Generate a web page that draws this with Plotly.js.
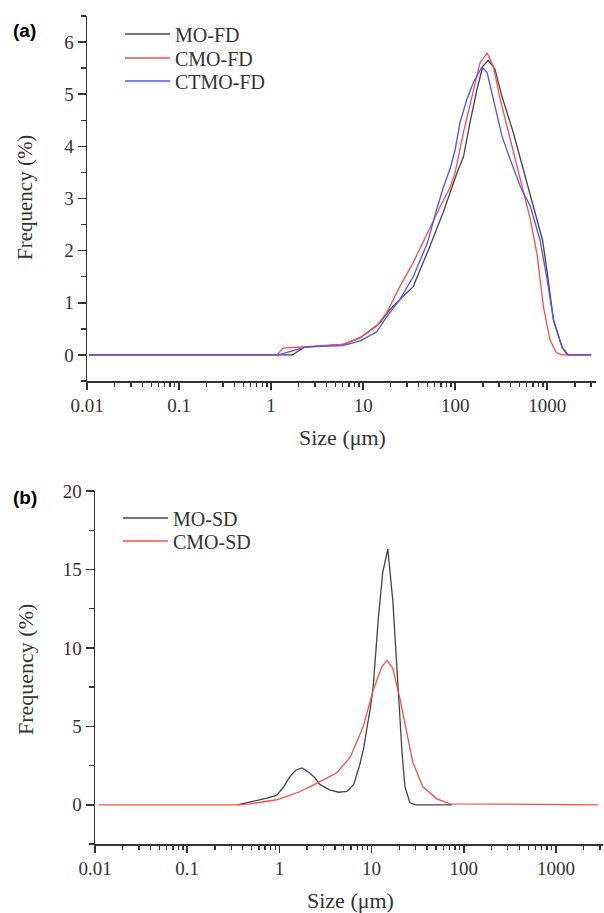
<!DOCTYPE html>
<html>
<head>
<meta charset="utf-8">
<script src="https://cdn.plot.ly/plotly-3.0.1.min.js"></script>
<style>html,body{margin:0;padding:0;background:#fff;}#chart{width:604px;height:913px;}</style>
</head>
<body>
<div id="chart"></div>
<script>
// ---- Panel (a): FD samples ----
const moFdSize = [0.0105, 1.7, 2.3, 3, 4, 6, 9.3, 15, 19.5, 25, 35, 53, 74, 105, 123, 145, 173, 200, 229, 271, 322, 427, 550, 700, 890, 1000, 1170, 1450, 1650, 3000];
const moFdFreq = [0, 0, 0.15, 0.17, 0.18, 0.2, 0.33, 0.6, 0.87, 1.06, 1.31, 2.08, 2.73, 3.5, 3.8, 4.46, 5.1, 5.54, 5.65, 5.48, 4.96, 4.27, 3.56, 2.92, 2.2, 1.58, 0.67, 0.15, 0, 0];

const cmoFdSize = [0.0105, 1.16, 1.35, 2, 3, 4, 6, 9.3, 14, 18, 25, 35, 50, 69, 89, 100, 123, 151, 186, 222, 259, 309, 396, 510, 656, 780, 910, 1070, 1260, 1450, 3000];
const cmoFdFreq = [0, 0, 0.13, 0.15, 0.17, 0.18, 0.2, 0.33, 0.55, 0.81, 1.31, 1.77, 2.35, 2.85, 3.23, 3.5, 4.27, 4.96, 5.6, 5.79, 5.54, 4.9, 4.13, 3.37, 2.6, 1.9, 0.92, 0.29, 0.04, 0, 0];

const ctmoFdSize = [0.0105, 1.2, 1.5, 2.35, 3, 4, 6, 9.3, 14, 18, 25, 35, 50, 63, 74, 89, 100, 113, 134, 158, 195, 222, 259, 322, 396, 510, 656, 836, 1000, 1170, 1450, 1700, 3000];
const ctmoFdFreq = [0, 0, 0.05, 0.15, 0.16, 0.17, 0.18, 0.27, 0.44, 0.73, 1.06, 1.5, 2.15, 2.79, 3.2, 3.6, 3.94, 4.46, 4.9, 5.23, 5.52, 5.42, 4.9, 4.2, 3.75, 3.23, 2.85, 2.2, 1.44, 0.67, 0.15, 0, 0];

// ---- Panel (b): SD samples ----
const moSdSize = [0.35, 0.5, 0.73, 0.93, 1.1, 1.3, 1.5, 1.76, 2.04, 2.4, 2.75, 3.5, 4.4, 5.4, 6.4, 7.4, 8.2, 8.9, 9.6, 10.4, 11.8, 13.2, 15, 17, 18.8, 21.4, 23, 26, 30, 75];
const moSdFreq = [0, 0.2, 0.42, 0.6, 1.1, 1.8, 2.2, 2.35, 2.1, 1.75, 1.3, 0.95, 0.8, 0.85, 1.3, 2.5, 3.6, 4.9, 6.0, 7.5, 11.8, 14.8, 16.3, 13.0, 8.6, 3.3, 1.15, 0.13, 0, 0];

const cmoSdSize = [0.011, 0.35, 0.48, 0.93, 1.1, 1.66, 2.6, 4.2, 5.9, 8.1, 10.4, 12.9, 14.7, 17, 20.4, 24, 28, 36, 51, 71, 2850];
const cmoSdFreq = [0, 0, 0.06, 0.32, 0.45, 0.83, 1.4, 2.04, 3.06, 4.97, 7.3, 8.8, 9.2, 8.7, 6.7, 4.6, 2.7, 1.15, 0.38, 0.06, 0];

// ---- Tick labels ----
const xTickVals = [0.01, 0.1, 1, 10, 100, 1000];
const xTickText = ["0.01", "0.1", "1", "10", "100", "1000"];
const yTicksA = [0, 1, 2, 3, 4, 5, 6];
const yTicksB = [0, 5, 10, 15, 20];

const serif = "Liberation Serif";
const axisCol = "#333";
const tickFont = {family: serif, size: 19, color: "#333"};

function tr(x, y, name, color, xa, ya, legend) {
  return {x: x, y: y, name: name, type: "scatter", mode: "lines",
    line: {color: color, width: 1.3, shape: "linear"},
    xaxis: xa, yaxis: ya, legend: legend, hoverinfo: "skip"};
}

const data = [
  tr(moFdSize, moFdFreq, "MO-FD", "#444444", "x", "y", "legend"),
  tr(cmoFdSize, cmoFdFreq, "CMO-FD", "#ff4a4a", "x", "y", "legend2"),
  tr(ctmoFdSize, ctmoFdFreq, "CTMO-FD", "#5050ff", "x", "y", "legend3"),
  tr(moSdSize, moSdFreq, "MO-SD", "#444444", "x2", "y2", "legend4"),
  tr(cmoSdSize, cmoSdFreq, "CMO-SD", "#ff4a4a", "x2", "y2", "legend5")
];

function xaxis(domain, anchor, rng) {
  return {type: "log", domain: domain, anchor: anchor, range: rng,
    tickmode: "array", tickvals: xTickVals, ticktext: xTickText,
    ticks: "outside", ticklen: 7, tickwidth: 1.5, tickcolor: axisCol,
    minor: {dtick: "D1", ticks: "outside", ticklen: 4, tickwidth: 1.3, tickcolor: axisCol},
    showline: true, linecolor: axisCol, linewidth: 1.5, showgrid: false, zeroline: false,
    tickfont: tickFont};
}
function yaxis(domain, anchor, rng, vals, minorD) {
  return {domain: domain, anchor: anchor, range: rng,
    tickmode: "array", tickvals: vals,
    ticks: "outside", ticklen: 8, tickwidth: 1.5, tickcolor: axisCol,
    minor: {dtick: minorD, tick0: 0, ticks: "outside", ticklen: 5, tickwidth: 1.3, tickcolor: axisCol},
    showline: true, linecolor: axisCol, linewidth: 1.5, showgrid: false, zeroline: false,
    tickfont: tickFont};
}
function leg(xpx, ypx) {
  return {x: xpx / W, y: 1 - ypx / H, xanchor: "left", yanchor: "middle",
    bgcolor: "rgba(0,0,0,0)", itemwidth: 45, tracegroupgap: 0,
    font: {family: serif, size: 20, color: "#333"}};
}

const W = 604, H = 913;
const layout = {
  width: W, height: H,
  margin: {l: 0, r: 0, t: 0, b: 0},
  paper_bgcolor: "#fff", plot_bgcolor: "#fff",
  showlegend: true,
  xaxis: xaxis([87 / W, 596 / W], "y", [-2, 3.53]),
  yaxis: yaxis([1 - 381 / H, 1 - 16 / H], "x", [-0.5, 6.5], yTicksA, 0.5),
  xaxis2: xaxis([95 / W, 603 / W], "y2", [-2, 3.51]),
  yaxis2: yaxis([1 - 844 / H, 1 - 491 / H], "x2", [-2.5, 20], yTicksB, 2.5),
  legend: leg(120, 34),
  legend2: leg(120, 58),
  legend3: leg(120, 81),
  legend4: leg(118, 518),
  legend5: leg(118, 541),
  annotations: [
    {text: "<b>(a)</b>", x: 11 / W, y: 1 - 30 / H, xref: "paper", yref: "paper", xanchor: "left", yanchor: "middle", showarrow: false,
      font: {family: "Liberation Sans", size: 19, color: "#000"}},
    {text: "<b>(b)</b>", x: 11 / W, y: 1 - 497 / H, xref: "paper", yref: "paper", xanchor: "left", yanchor: "middle", showarrow: false,
      font: {family: "Liberation Sans", size: 19, color: "#000"}},
    {text: "Size (μm)", x: 342 / W, y: 1 - 438 / H, xref: "paper", yref: "paper", xanchor: "center", yanchor: "middle", showarrow: false,
      font: {family: serif, size: 22, color: "#333"}},
    {text: "Size (μm)", x: 350 / W, y: 1 - 900 / H, xref: "paper", yref: "paper", xanchor: "center", yanchor: "middle", showarrow: false,
      font: {family: serif, size: 22, color: "#333"}},
    {text: "Frequency (%)", x: 25 / W, y: 1 - 198 / H, xref: "paper", yref: "paper", xanchor: "center", yanchor: "middle", textangle: -90, showarrow: false,
      font: {family: serif, size: 21, color: "#333"}},
    {text: "Frequency (%)", x: 25 / W, y: 1 - 670 / H, xref: "paper", yref: "paper", xanchor: "center", yanchor: "middle", textangle: -90, showarrow: false,
      font: {family: serif, size: 22, color: "#333"}}
  ]
};

Plotly.newPlot("chart", data, layout, {staticPlot: true, displayModeBar: false});
</script>
</body>
</html>
